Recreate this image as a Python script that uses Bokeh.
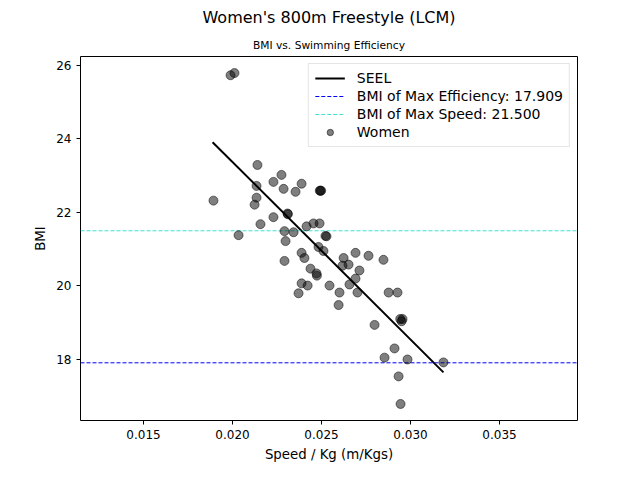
from bokeh.plotting import figure
from bokeh.models import Legend, LegendItem, Title, Range1d
from bokeh.embed import file_html
from bokeh.resources import INLINE

speed = [0.01989, 0.02011, 0.02140, 0.02275, 0.02230, 0.02287, 0.02388, 0.02354,
         0.02490, 0.02494, 0.02498, 0.01893, 0.02135, 0.02135, 0.02124, 0.02309,
         0.02311, 0.02230, 0.02157, 0.02034, 0.02416, 0.02455, 0.02489, 0.02292,
         0.02343, 0.02522, 0.02528, 0.02298, 0.02483, 0.02511, 0.02388, 0.02404,
         0.02624, 0.02691, 0.02764, 0.02848, 0.02292, 0.02618, 0.02652, 0.02713,
         0.02438, 0.02472, 0.02474, 0.02691, 0.02657, 0.02545, 0.02388, 0.02422,
         0.02371, 0.02601, 0.02702, 0.02877, 0.02927, 0.02596, 0.02798, 0.02955,
         0.02942, 0.02950, 0.02910, 0.02854, 0.02983, 0.03185, 0.02933, 0.02944]
bmi = [25.73, 25.79, 23.29, 23.02, 22.83, 22.64, 22.78, 22.56,
       22.59, 22.59, 22.59, 22.32, 22.72, 22.40, 22.21, 21.97,
       21.95, 21.87, 21.68, 21.38, 21.62, 21.70, 21.70, 21.49,
       21.46, 21.36, 21.35, 21.22, 21.06, 20.95, 20.90, 20.76,
       20.76, 20.90, 20.82, 20.71, 20.68, 20.55, 20.58, 20.42,
       20.47, 20.34, 20.28, 20.20, 20.04, 20.01, 20.07, 20.01,
       19.80, 19.82, 19.82, 19.82, 19.82, 19.48, 18.94, 19.10,
       19.10, 19.04, 18.30, 18.05, 18.00, 17.92, 17.54, 16.79]

seel_x = [0.01888, 0.03185]
seel_y = [23.91, 17.65]

bmi_max_eff = 17.909
bmi_max_speed = 21.500

FONT = "DejaVu Sans"

p = figure(width=624, height=464, output_backend="svg", toolbar_location=None,
           x_range=Range1d(0.01146, 0.03938), y_range=Range1d(16.34, 26.24),
           min_border_left=80, min_border_right=47, min_border_bottom=38)
p.title = Title(text="Women's 800m Freestyle (LCM)", align="center", text_color="black",
                text_font=FONT, text_font_size="12pt", text_font_style="normal")
p.add_layout(Title(text="BMI vs. Swimming Efficiency", align="center", text_color="black",
                   text_font=FONT, text_font_size="8pt", text_font_style="normal"), "above")

p.xgrid.visible = False
p.ygrid.visible = False
p.outline_line_color = "black"
p.xaxis.axis_label = "Speed / Kg (m/Kgs)"
p.yaxis.axis_label = "BMI"
p.xaxis.ticker = [0.015, 0.020, 0.025, 0.030, 0.035]
p.yaxis.ticker = [18, 20, 22, 24, 26]
p.xaxis.major_label_overrides = {0.015: "0.015", 0.020: "0.020", 0.025: "0.025", 0.030: "0.030", 0.035: "0.035"}
for ax in (p.xaxis, p.yaxis):
    ax.axis_label_text_font = FONT
    ax.axis_label_text_font_size = "10pt"
    ax.axis_label_text_font_style = "normal"
    ax.axis_label_text_color = "black"
    ax.major_label_text_font = FONT
    ax.major_label_text_font_size = "9pt"
    ax.major_label_text_color = "black"
    ax.minor_tick_line_color = None
    ax.major_tick_in = 0
    ax.major_tick_out = 4
    ax.axis_line_color = None

line = p.line(seel_x, seel_y, line_color="black", line_width=2)
eff = p.line([0.01146, 0.03938], [bmi_max_eff, bmi_max_eff], line_color="blue", line_dash="4 2")
spd = p.line([0.01146, 0.03938], [bmi_max_speed, bmi_max_speed], line_color="#40e0d0", line_dash="4 2")
pts = p.scatter(speed, bmi, size=9, fill_color="black", fill_alpha=0.5,
                line_color="black", line_alpha=0.5)

legend = Legend(items=[
    LegendItem(label="SEEL", renderers=[line]),
    LegendItem(label="BMI of Max Efficiency: %.3f" % bmi_max_eff, renderers=[eff]),
    LegendItem(label="BMI of Max Speed: %.3f" % bmi_max_speed, renderers=[spd]),
    LegendItem(label="Women", renderers=[pts]),
], location="top_right", label_text_font=FONT, label_text_font_size="10.5pt",
    label_text_color="black", border_line_color="#cccccc", spacing=2, padding=6, margin=7,
    label_height=16, glyph_height=16, glyph_width=30, label_standoff=12)
p.add_layout(legend)

open("out.html", "w").write(file_html(p, INLINE))
